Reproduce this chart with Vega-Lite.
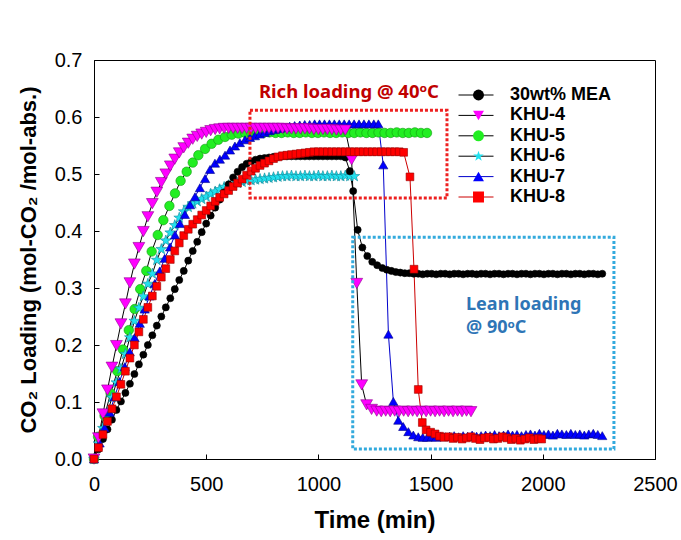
{
"$schema": "https://vega.github.io/schema/vega-lite/v6.json",
"width": 561, "height": 399,
"autosize": {"type": "none"},
"padding": {"left": 94, "top": 60, "right": 26, "bottom": 81},
"background": "white",
"config": {
 "view": {"stroke": "black", "strokeWidth": 1},
 "axis": {"grid": false, "domainColor": "black", "tickColor": "black", "tickSize": -5, "labelFont": "Liberation Sans", "labelFontSize": 20, "labelColor": "black", "titleFont": "Liberation Sans", "titleFontWeight": "bold", "titleColor": "black", "labelFlush": false, "labelOverlap": false, "labelBound": false},
 "axisX": {"labelPadding": 20, "titlePadding": 14, "titleFontSize": 24},
 "axisY": {"labelPadding": 17, "titlePadding": 14, "titleFontSize": 22}
},
"data": {"values": [
{"s":"KHU-5","t":0,"v":0},{"s":"KHU-5","t":18,"v":0.039},{"s":"KHU-5","t":47,"v":0.076},{"s":"KHU-5","t":74,"v":0.115},{"s":"KHU-5","t":104,"v":0.154},{"s":"KHU-5","t":129,"v":0.192},{"s":"KHU-5","t":155,"v":0.226},{"s":"KHU-5","t":181,"v":0.263},{"s":"KHU-5","t":206,"v":0.298},{"s":"KHU-5","t":233,"v":0.33},{"s":"KHU-5","t":257,"v":0.364},{"s":"KHU-5","t":284,"v":0.393},{"s":"KHU-5","t":309,"v":0.419},{"s":"KHU-5","t":336,"v":0.444},{"s":"KHU-5","t":361,"v":0.466},{"s":"KHU-5","t":386,"v":0.488},{"s":"KHU-5","t":413,"v":0.504},{"s":"KHU-5","t":440,"v":0.52},{"s":"KHU-5","t":465,"v":0.533},{"s":"KHU-5","t":495,"v":0.544},{"s":"KHU-5","t":524,"v":0.553},{"s":"KHU-5","t":554,"v":0.56},{"s":"KHU-5","t":584,"v":0.565},{"s":"KHU-5","t":614,"v":0.569},{"s":"KHU-5","t":644,"v":0.571},{"s":"KHU-5","t":674,"v":0.572},{"s":"KHU-5","t":701,"v":0.572},{"s":"KHU-5","t":728,"v":0.573},{"s":"KHU-5","t":755,"v":0.572},{"s":"KHU-5","t":782,"v":0.573},{"s":"KHU-5","t":809,"v":0.572},{"s":"KHU-5","t":836,"v":0.572},{"s":"KHU-5","t":863,"v":0.573},{"s":"KHU-5","t":890,"v":0.572},{"s":"KHU-5","t":917,"v":0.572},{"s":"KHU-5","t":944,"v":0.573},{"s":"KHU-5","t":971,"v":0.572},{"s":"KHU-5","t":998,"v":0.572},{"s":"KHU-5","t":1025,"v":0.573},{"s":"KHU-5","t":1052,"v":0.572},{"s":"KHU-5","t":1079,"v":0.572},{"s":"KHU-5","t":1106,"v":0.573},{"s":"KHU-5","t":1133,"v":0.572},{"s":"KHU-5","t":1160,"v":0.572},{"s":"KHU-5","t":1187,"v":0.573},{"s":"KHU-5","t":1214,"v":0.572},{"s":"KHU-5","t":1241,"v":0.572},{"s":"KHU-5","t":1268,"v":0.573},{"s":"KHU-5","t":1295,"v":0.572},{"s":"KHU-5","t":1322,"v":0.572},{"s":"KHU-5","t":1349,"v":0.573},{"s":"KHU-5","t":1376,"v":0.572},{"s":"KHU-5","t":1403,"v":0.572},{"s":"KHU-5","t":1430,"v":0.573},{"s":"KHU-5","t":1457,"v":0.572},{"s":"KHU-5","t":1484,"v":0.572},
{"s":"KHU-6","t":0,"v":0},{"s":"KHU-6","t":20,"v":0.027},{"s":"KHU-6","t":40,"v":0.054},{"s":"KHU-6","t":60,"v":0.081},{"s":"KHU-6","t":80,"v":0.108},{"s":"KHU-6","t":100,"v":0.134},{"s":"KHU-6","t":120,"v":0.158},{"s":"KHU-6","t":140,"v":0.184},{"s":"KHU-6","t":160,"v":0.213},{"s":"KHU-6","t":180,"v":0.242},{"s":"KHU-6","t":200,"v":0.265},{"s":"KHU-6","t":220,"v":0.285},{"s":"KHU-6","t":240,"v":0.307},{"s":"KHU-6","t":260,"v":0.325},{"s":"KHU-6","t":280,"v":0.349},{"s":"KHU-6","t":300,"v":0.368},{"s":"KHU-6","t":320,"v":0.383},{"s":"KHU-6","t":340,"v":0.397},{"s":"KHU-6","t":360,"v":0.41},{"s":"KHU-6","t":380,"v":0.423},{"s":"KHU-6","t":400,"v":0.434},{"s":"KHU-6","t":420,"v":0.442},{"s":"KHU-6","t":440,"v":0.448},{"s":"KHU-6","t":460,"v":0.452},{"s":"KHU-6","t":480,"v":0.456},{"s":"KHU-6","t":500,"v":0.46},{"s":"KHU-6","t":520,"v":0.465},{"s":"KHU-6","t":540,"v":0.469},{"s":"KHU-6","t":560,"v":0.473},{"s":"KHU-6","t":580,"v":0.477},{"s":"KHU-6","t":600,"v":0.48},{"s":"KHU-6","t":620,"v":0.482},{"s":"KHU-6","t":640,"v":0.484},{"s":"KHU-6","t":660,"v":0.486},{"s":"KHU-6","t":680,"v":0.488},{"s":"KHU-6","t":700,"v":0.489},{"s":"KHU-6","t":720,"v":0.49},{"s":"KHU-6","t":740,"v":0.491},{"s":"KHU-6","t":760,"v":0.492},{"s":"KHU-6","t":780,"v":0.493},{"s":"KHU-6","t":800,"v":0.494},{"s":"KHU-6","t":820,"v":0.495},{"s":"KHU-6","t":840,"v":0.496},{"s":"KHU-6","t":860,"v":0.496},{"s":"KHU-6","t":880,"v":0.497},{"s":"KHU-6","t":900,"v":0.496},{"s":"KHU-6","t":920,"v":0.496},{"s":"KHU-6","t":940,"v":0.497},{"s":"KHU-6","t":960,"v":0.496},{"s":"KHU-6","t":980,"v":0.496},{"s":"KHU-6","t":1000,"v":0.497},{"s":"KHU-6","t":1020,"v":0.496},{"s":"KHU-6","t":1040,"v":0.496},{"s":"KHU-6","t":1060,"v":0.497},{"s":"KHU-6","t":1080,"v":0.496},{"s":"KHU-6","t":1100,"v":0.496},{"s":"KHU-6","t":1120,"v":0.497},{"s":"KHU-6","t":1140,"v":0.496},{"s":"KHU-6","t":1160,"v":0.496},
{"s":"30wt% MEA","t":0,"v":0},{"s":"30wt% MEA","t":20,"v":0.017},{"s":"30wt% MEA","t":40,"v":0.035},{"s":"30wt% MEA","t":60,"v":0.052},{"s":"30wt% MEA","t":80,"v":0.069},{"s":"30wt% MEA","t":100,"v":0.086},{"s":"30wt% MEA","t":120,"v":0.101},{"s":"30wt% MEA","t":140,"v":0.116},{"s":"30wt% MEA","t":160,"v":0.132},{"s":"30wt% MEA","t":180,"v":0.149},{"s":"30wt% MEA","t":200,"v":0.166},{"s":"30wt% MEA","t":220,"v":0.183},{"s":"30wt% MEA","t":240,"v":0.2},{"s":"30wt% MEA","t":260,"v":0.217},{"s":"30wt% MEA","t":280,"v":0.234},{"s":"30wt% MEA","t":300,"v":0.25},{"s":"30wt% MEA","t":320,"v":0.266},{"s":"30wt% MEA","t":340,"v":0.282},{"s":"30wt% MEA","t":360,"v":0.298},{"s":"30wt% MEA","t":380,"v":0.314},{"s":"30wt% MEA","t":400,"v":0.33},{"s":"30wt% MEA","t":420,"v":0.348},{"s":"30wt% MEA","t":440,"v":0.365},{"s":"30wt% MEA","t":460,"v":0.381},{"s":"30wt% MEA","t":480,"v":0.398},{"s":"30wt% MEA","t":500,"v":0.413},{"s":"30wt% MEA","t":520,"v":0.427},{"s":"30wt% MEA","t":540,"v":0.441},{"s":"30wt% MEA","t":560,"v":0.455},{"s":"30wt% MEA","t":580,"v":0.468},{"s":"30wt% MEA","t":600,"v":0.482},{"s":"30wt% MEA","t":620,"v":0.494},{"s":"30wt% MEA","t":640,"v":0.504},{"s":"30wt% MEA","t":660,"v":0.512},{"s":"30wt% MEA","t":680,"v":0.518},{"s":"30wt% MEA","t":700,"v":0.522},{"s":"30wt% MEA","t":720,"v":0.525},{"s":"30wt% MEA","t":740,"v":0.527},{"s":"30wt% MEA","t":760,"v":0.528},{"s":"30wt% MEA","t":780,"v":0.529},{"s":"30wt% MEA","t":800,"v":0.53},{"s":"30wt% MEA","t":820,"v":0.53},{"s":"30wt% MEA","t":840,"v":0.531},{"s":"30wt% MEA","t":860,"v":0.531},{"s":"30wt% MEA","t":880,"v":0.531},{"s":"30wt% MEA","t":900,"v":0.531},{"s":"30wt% MEA","t":920,"v":0.531},{"s":"30wt% MEA","t":940,"v":0.531},{"s":"30wt% MEA","t":960,"v":0.531},{"s":"30wt% MEA","t":980,"v":0.531},{"s":"30wt% MEA","t":1000,"v":0.531},{"s":"30wt% MEA","t":1020,"v":0.531},{"s":"30wt% MEA","t":1040,"v":0.531},{"s":"30wt% MEA","t":1060,"v":0.531},{"s":"30wt% MEA","t":1080,"v":0.531},{"s":"30wt% MEA","t":1100,"v":0.531},{"s":"30wt% MEA","t":1120,"v":0.529},{"s":"30wt% MEA","t":1140,"v":0.505},{"s":"30wt% MEA","t":1155,"v":0.47},{"s":"30wt% MEA","t":1175,"v":0.402},{"s":"30wt% MEA","t":1196,"v":0.371},{"s":"30wt% MEA","t":1218,"v":0.356},{"s":"30wt% MEA","t":1240,"v":0.346},{"s":"30wt% MEA","t":1262,"v":0.34},{"s":"30wt% MEA","t":1285,"v":0.335},{"s":"30wt% MEA","t":1305,"v":0.332},{"s":"30wt% MEA","t":1325,"v":0.33},{"s":"30wt% MEA","t":1345,"v":0.328},{"s":"30wt% MEA","t":1365,"v":0.327},{"s":"30wt% MEA","t":1385,"v":0.326},{"s":"30wt% MEA","t":1405,"v":0.326},{"s":"30wt% MEA","t":1425,"v":0.325},{"s":"30wt% MEA","t":1445,"v":0.325},{"s":"30wt% MEA","t":1465,"v":0.324},{"s":"30wt% MEA","t":1485,"v":0.325},{"s":"30wt% MEA","t":1505,"v":0.325},{"s":"30wt% MEA","t":1525,"v":0.324},{"s":"30wt% MEA","t":1545,"v":0.325},{"s":"30wt% MEA","t":1565,"v":0.325},{"s":"30wt% MEA","t":1585,"v":0.324},{"s":"30wt% MEA","t":1605,"v":0.325},{"s":"30wt% MEA","t":1625,"v":0.325},{"s":"30wt% MEA","t":1645,"v":0.324},{"s":"30wt% MEA","t":1665,"v":0.325},{"s":"30wt% MEA","t":1685,"v":0.325},{"s":"30wt% MEA","t":1705,"v":0.324},{"s":"30wt% MEA","t":1725,"v":0.325},{"s":"30wt% MEA","t":1745,"v":0.325},{"s":"30wt% MEA","t":1765,"v":0.324},{"s":"30wt% MEA","t":1785,"v":0.325},{"s":"30wt% MEA","t":1805,"v":0.325},{"s":"30wt% MEA","t":1825,"v":0.324},{"s":"30wt% MEA","t":1845,"v":0.325},{"s":"30wt% MEA","t":1865,"v":0.325},{"s":"30wt% MEA","t":1885,"v":0.324},{"s":"30wt% MEA","t":1905,"v":0.325},{"s":"30wt% MEA","t":1925,"v":0.325},{"s":"30wt% MEA","t":1945,"v":0.324},{"s":"30wt% MEA","t":1965,"v":0.325},{"s":"30wt% MEA","t":1985,"v":0.325},{"s":"30wt% MEA","t":2005,"v":0.324},{"s":"30wt% MEA","t":2025,"v":0.325},{"s":"30wt% MEA","t":2045,"v":0.325},{"s":"30wt% MEA","t":2065,"v":0.324},{"s":"30wt% MEA","t":2085,"v":0.325},{"s":"30wt% MEA","t":2105,"v":0.325},{"s":"30wt% MEA","t":2125,"v":0.324},{"s":"30wt% MEA","t":2145,"v":0.325},{"s":"30wt% MEA","t":2165,"v":0.325},{"s":"30wt% MEA","t":2185,"v":0.324},{"s":"30wt% MEA","t":2205,"v":0.325},{"s":"30wt% MEA","t":2225,"v":0.325},{"s":"30wt% MEA","t":2245,"v":0.324},{"s":"30wt% MEA","t":2265,"v":0.325},
{"s":"KHU-7","t":0,"v":0},{"s":"KHU-7","t":25,"v":0.028},{"s":"KHU-7","t":47,"v":0.055},{"s":"KHU-7","t":70,"v":0.082},{"s":"KHU-7","t":92,"v":0.109},{"s":"KHU-7","t":114,"v":0.136},{"s":"KHU-7","t":137,"v":0.162},{"s":"KHU-7","t":159,"v":0.188},{"s":"KHU-7","t":181,"v":0.213},{"s":"KHU-7","t":204,"v":0.238},{"s":"KHU-7","t":226,"v":0.263},{"s":"KHU-7","t":248,"v":0.286},{"s":"KHU-7","t":271,"v":0.308},{"s":"KHU-7","t":293,"v":0.33},{"s":"KHU-7","t":315,"v":0.352},{"s":"KHU-7","t":339,"v":0.372},{"s":"KHU-7","t":361,"v":0.393},{"s":"KHU-7","t":383,"v":0.413},{"s":"KHU-7","t":405,"v":0.429},{"s":"KHU-7","t":428,"v":0.446},{"s":"KHU-7","t":450,"v":0.46},{"s":"KHU-7","t":472,"v":0.476},{"s":"KHU-7","t":495,"v":0.492},{"s":"KHU-7","t":517,"v":0.508},{"s":"KHU-7","t":539,"v":0.519},{"s":"KHU-7","t":561,"v":0.526},{"s":"KHU-7","t":584,"v":0.533},{"s":"KHU-7","t":606,"v":0.542},{"s":"KHU-7","t":628,"v":0.549},{"s":"KHU-7","t":650,"v":0.555},{"s":"KHU-7","t":673,"v":0.56},{"s":"KHU-7","t":695,"v":0.564},{"s":"KHU-7","t":717,"v":0.567},{"s":"KHU-7","t":739,"v":0.57},{"s":"KHU-7","t":761,"v":0.573},{"s":"KHU-7","t":783,"v":0.576},{"s":"KHU-7","t":806,"v":0.578},{"s":"KHU-7","t":828,"v":0.58},{"s":"KHU-7","t":850,"v":0.582},{"s":"KHU-7","t":872,"v":0.584},{"s":"KHU-7","t":894,"v":0.585},{"s":"KHU-7","t":917,"v":0.586},{"s":"KHU-7","t":939,"v":0.587},{"s":"KHU-7","t":961,"v":0.587},{"s":"KHU-7","t":983,"v":0.588},{"s":"KHU-7","t":1005,"v":0.588},{"s":"KHU-7","t":1027,"v":0.588},{"s":"KHU-7","t":1049,"v":0.588},{"s":"KHU-7","t":1071,"v":0.588},{"s":"KHU-7","t":1093,"v":0.588},{"s":"KHU-7","t":1115,"v":0.588},{"s":"KHU-7","t":1137,"v":0.588},{"s":"KHU-7","t":1159,"v":0.588},{"s":"KHU-7","t":1181,"v":0.588},{"s":"KHU-7","t":1203,"v":0.588},{"s":"KHU-7","t":1225,"v":0.588},{"s":"KHU-7","t":1247,"v":0.588},{"s":"KHU-7","t":1267,"v":0.588},{"s":"KHU-7","t":1289,"v":0.516},{"s":"KHU-7","t":1312,"v":0.219},{"s":"KHU-7","t":1334,"v":0.101},{"s":"KHU-7","t":1356,"v":0.068},{"s":"KHU-7","t":1378,"v":0.057},{"s":"KHU-7","t":1401,"v":0.048},{"s":"KHU-7","t":1423,"v":0.042},{"s":"KHU-7","t":1445,"v":0.039},{"s":"KHU-7","t":1465,"v":0.038},{"s":"KHU-7","t":1485,"v":0.038},{"s":"KHU-7","t":1505,"v":0.039},{"s":"KHU-7","t":1525,"v":0.038},{"s":"KHU-7","t":1545,"v":0.04},{"s":"KHU-7","t":1565,"v":0.039},{"s":"KHU-7","t":1585,"v":0.04},{"s":"KHU-7","t":1605,"v":0.041},{"s":"KHU-7","t":1625,"v":0.039},{"s":"KHU-7","t":1645,"v":0.041},{"s":"KHU-7","t":1665,"v":0.04},{"s":"KHU-7","t":1685,"v":0.042},{"s":"KHU-7","t":1705,"v":0.04},{"s":"KHU-7","t":1725,"v":0.041},{"s":"KHU-7","t":1745,"v":0.042},{"s":"KHU-7","t":1765,"v":0.041},{"s":"KHU-7","t":1785,"v":0.043},{"s":"KHU-7","t":1805,"v":0.041},{"s":"KHU-7","t":1825,"v":0.042},{"s":"KHU-7","t":1845,"v":0.044},{"s":"KHU-7","t":1865,"v":0.042},{"s":"KHU-7","t":1885,"v":0.043},{"s":"KHU-7","t":1905,"v":0.041},{"s":"KHU-7","t":1925,"v":0.043},{"s":"KHU-7","t":1945,"v":0.044},{"s":"KHU-7","t":1965,"v":0.042},{"s":"KHU-7","t":1985,"v":0.045},{"s":"KHU-7","t":2005,"v":0.043},{"s":"KHU-7","t":2025,"v":0.044},{"s":"KHU-7","t":2045,"v":0.042},{"s":"KHU-7","t":2065,"v":0.045},{"s":"KHU-7","t":2085,"v":0.044},{"s":"KHU-7","t":2105,"v":0.043},{"s":"KHU-7","t":2125,"v":0.045},{"s":"KHU-7","t":2145,"v":0.043},{"s":"KHU-7","t":2165,"v":0.044},{"s":"KHU-7","t":2185,"v":0.042},{"s":"KHU-7","t":2205,"v":0.044},{"s":"KHU-7","t":2225,"v":0.045},{"s":"KHU-7","t":2245,"v":0.043},{"s":"KHU-7","t":2265,"v":0.041},
{"s":"KHU-4","t":0,"v":0},{"s":"KHU-4","t":20,"v":0.037},{"s":"KHU-4","t":40,"v":0.079},{"s":"KHU-4","t":60,"v":0.121},{"s":"KHU-4","t":80,"v":0.161},{"s":"KHU-4","t":100,"v":0.199},{"s":"KHU-4","t":120,"v":0.237},{"s":"KHU-4","t":140,"v":0.272},{"s":"KHU-4","t":160,"v":0.309},{"s":"KHU-4","t":180,"v":0.342},{"s":"KHU-4","t":200,"v":0.371},{"s":"KHU-4","t":220,"v":0.399},{"s":"KHU-4","t":240,"v":0.425},{"s":"KHU-4","t":260,"v":0.448},{"s":"KHU-4","t":280,"v":0.468},{"s":"KHU-4","t":300,"v":0.485},{"s":"KHU-4","t":320,"v":0.5},{"s":"KHU-4","t":340,"v":0.514},{"s":"KHU-4","t":360,"v":0.526},{"s":"KHU-4","t":380,"v":0.537},{"s":"KHU-4","t":400,"v":0.546},{"s":"KHU-4","t":420,"v":0.554},{"s":"KHU-4","t":440,"v":0.561},{"s":"KHU-4","t":460,"v":0.566},{"s":"KHU-4","t":480,"v":0.57},{"s":"KHU-4","t":500,"v":0.573},{"s":"KHU-4","t":520,"v":0.576},{"s":"KHU-4","t":540,"v":0.578},{"s":"KHU-4","t":560,"v":0.579},{"s":"KHU-4","t":580,"v":0.58},{"s":"KHU-4","t":600,"v":0.58},{"s":"KHU-4","t":620,"v":0.58},{"s":"KHU-4","t":640,"v":0.58},{"s":"KHU-4","t":660,"v":0.58},{"s":"KHU-4","t":680,"v":0.58},{"s":"KHU-4","t":700,"v":0.58},{"s":"KHU-4","t":720,"v":0.58},{"s":"KHU-4","t":740,"v":0.58},{"s":"KHU-4","t":760,"v":0.58},{"s":"KHU-4","t":780,"v":0.58},{"s":"KHU-4","t":800,"v":0.58},{"s":"KHU-4","t":820,"v":0.58},{"s":"KHU-4","t":840,"v":0.58},{"s":"KHU-4","t":860,"v":0.579},{"s":"KHU-4","t":880,"v":0.579},{"s":"KHU-4","t":900,"v":0.579},{"s":"KHU-4","t":920,"v":0.579},{"s":"KHU-4","t":940,"v":0.579},{"s":"KHU-4","t":960,"v":0.579},{"s":"KHU-4","t":980,"v":0.578},{"s":"KHU-4","t":1000,"v":0.578},{"s":"KHU-4","t":1020,"v":0.578},{"s":"KHU-4","t":1040,"v":0.578},{"s":"KHU-4","t":1060,"v":0.578},{"s":"KHU-4","t":1080,"v":0.577},{"s":"KHU-4","t":1100,"v":0.577},{"s":"KHU-4","t":1120,"v":0.577},{"s":"KHU-4","t":1148,"v":0.525},{"s":"KHU-4","t":1171,"v":0.308},{"s":"KHU-4","t":1193,"v":0.13},{"s":"KHU-4","t":1215,"v":0.095},{"s":"KHU-4","t":1237,"v":0.087},{"s":"KHU-4","t":1260,"v":0.084},{"s":"KHU-4","t":1280,"v":0.083},{"s":"KHU-4","t":1300,"v":0.084},{"s":"KHU-4","t":1320,"v":0.083},{"s":"KHU-4","t":1340,"v":0.084},{"s":"KHU-4","t":1360,"v":0.083},{"s":"KHU-4","t":1380,"v":0.084},{"s":"KHU-4","t":1400,"v":0.083},{"s":"KHU-4","t":1420,"v":0.084},{"s":"KHU-4","t":1440,"v":0.083},{"s":"KHU-4","t":1460,"v":0.084},{"s":"KHU-4","t":1480,"v":0.083},{"s":"KHU-4","t":1500,"v":0.084},{"s":"KHU-4","t":1520,"v":0.083},{"s":"KHU-4","t":1540,"v":0.084},{"s":"KHU-4","t":1560,"v":0.083},{"s":"KHU-4","t":1580,"v":0.084},{"s":"KHU-4","t":1600,"v":0.083},{"s":"KHU-4","t":1620,"v":0.084},{"s":"KHU-4","t":1640,"v":0.083},{"s":"KHU-4","t":1660,"v":0.084},{"s":"KHU-4","t":1680,"v":0.083},
{"s":"KHU-8","t":0,"v":0},{"s":"KHU-8","t":20,"v":0.02},{"s":"KHU-8","t":40,"v":0.043},{"s":"KHU-8","t":60,"v":0.066},{"s":"KHU-8","t":80,"v":0.088},{"s":"KHU-8","t":100,"v":0.109},{"s":"KHU-8","t":120,"v":0.131},{"s":"KHU-8","t":140,"v":0.154},{"s":"KHU-8","t":160,"v":0.177},{"s":"KHU-8","t":180,"v":0.2},{"s":"KHU-8","t":200,"v":0.223},{"s":"KHU-8","t":220,"v":0.245},{"s":"KHU-8","t":240,"v":0.266},{"s":"KHU-8","t":260,"v":0.286},{"s":"KHU-8","t":280,"v":0.303},{"s":"KHU-8","t":300,"v":0.319},{"s":"KHU-8","t":320,"v":0.334},{"s":"KHU-8","t":340,"v":0.35},{"s":"KHU-8","t":360,"v":0.365},{"s":"KHU-8","t":380,"v":0.379},{"s":"KHU-8","t":400,"v":0.392},{"s":"KHU-8","t":420,"v":0.403},{"s":"KHU-8","t":440,"v":0.412},{"s":"KHU-8","t":460,"v":0.42},{"s":"KHU-8","t":480,"v":0.428},{"s":"KHU-8","t":500,"v":0.436},{"s":"KHU-8","t":520,"v":0.444},{"s":"KHU-8","t":540,"v":0.452},{"s":"KHU-8","t":560,"v":0.459},{"s":"KHU-8","t":580,"v":0.465},{"s":"KHU-8","t":600,"v":0.471},{"s":"KHU-8","t":620,"v":0.478},{"s":"KHU-8","t":640,"v":0.484},{"s":"KHU-8","t":660,"v":0.491},{"s":"KHU-8","t":680,"v":0.498},{"s":"KHU-8","t":700,"v":0.505},{"s":"KHU-8","t":720,"v":0.51},{"s":"KHU-8","t":740,"v":0.515},{"s":"KHU-8","t":760,"v":0.519},{"s":"KHU-8","t":780,"v":0.523},{"s":"KHU-8","t":800,"v":0.527},{"s":"KHU-8","t":820,"v":0.53},{"s":"KHU-8","t":840,"v":0.532},{"s":"KHU-8","t":860,"v":0.533},{"s":"KHU-8","t":880,"v":0.534},{"s":"KHU-8","t":900,"v":0.535},{"s":"KHU-8","t":920,"v":0.536},{"s":"KHU-8","t":940,"v":0.537},{"s":"KHU-8","t":960,"v":0.538},{"s":"KHU-8","t":980,"v":0.539},{"s":"KHU-8","t":1000,"v":0.539},{"s":"KHU-8","t":1020,"v":0.539},{"s":"KHU-8","t":1040,"v":0.539},{"s":"KHU-8","t":1060,"v":0.539},{"s":"KHU-8","t":1080,"v":0.539},{"s":"KHU-8","t":1100,"v":0.539},{"s":"KHU-8","t":1120,"v":0.539},{"s":"KHU-8","t":1140,"v":0.539},{"s":"KHU-8","t":1160,"v":0.539},{"s":"KHU-8","t":1180,"v":0.539},{"s":"KHU-8","t":1200,"v":0.539},{"s":"KHU-8","t":1220,"v":0.539},{"s":"KHU-8","t":1240,"v":0.539},{"s":"KHU-8","t":1260,"v":0.539},{"s":"KHU-8","t":1280,"v":0.539},{"s":"KHU-8","t":1300,"v":0.539},{"s":"KHU-8","t":1320,"v":0.539},{"s":"KHU-8","t":1340,"v":0.539},{"s":"KHU-8","t":1360,"v":0.539},{"s":"KHU-8","t":1380,"v":0.538},{"s":"KHU-8","t":1408,"v":0.495},{"s":"KHU-8","t":1426,"v":0.333},{"s":"KHU-8","t":1445,"v":0.122},{"s":"KHU-8","t":1463,"v":0.064},{"s":"KHU-8","t":1480,"v":0.051},{"s":"KHU-8","t":1500,"v":0.047},{"s":"KHU-8","t":1520,"v":0.044},{"s":"KHU-8","t":1540,"v":0.04},{"s":"KHU-8","t":1560,"v":0.038},{"s":"KHU-8","t":1580,"v":0.039},{"s":"KHU-8","t":1600,"v":0.036},{"s":"KHU-8","t":1620,"v":0.038},{"s":"KHU-8","t":1640,"v":0.035},{"s":"KHU-8","t":1660,"v":0.037},{"s":"KHU-8","t":1680,"v":0.039},{"s":"KHU-8","t":1700,"v":0.036},{"s":"KHU-8","t":1720,"v":0.034},{"s":"KHU-8","t":1740,"v":0.037},{"s":"KHU-8","t":1760,"v":0.038},{"s":"KHU-8","t":1780,"v":0.035},{"s":"KHU-8","t":1800,"v":0.036},{"s":"KHU-8","t":1820,"v":0.039},{"s":"KHU-8","t":1840,"v":0.037},{"s":"KHU-8","t":1860,"v":0.034},{"s":"KHU-8","t":1880,"v":0.036},{"s":"KHU-8","t":1900,"v":0.033},{"s":"KHU-8","t":1920,"v":0.035},{"s":"KHU-8","t":1940,"v":0.037},{"s":"KHU-8","t":1960,"v":0.034},{"s":"KHU-8","t":1980,"v":0.036},{"s":"KHU-8","t":1995,"v":0.035}
]},
"encoding": {
 "x": {"field": "t", "type": "quantitative", "title": "Time (min)", "scale": {"domain": [0, 2500], "nice": false}, "axis": {"values": [0, 500, 1000, 1500, 2000, 2500], "format": "d"}},
 "y": {"field": "v", "type": "quantitative", "title": "CO₂ Loading (mol-CO₂ /mol-abs.)", "scale": {"domain": [0, 0.7], "nice": false}, "axis": {"values": [0, 0.1, 0.2, 0.3, 0.4, 0.5, 0.6, 0.7], "format": ".1f"}}
},
"layer": [
 {"mark": {"type": "line", "strokeWidth": 1},
  "encoding": {"stroke": {"field": "s", "type": "nominal", "scale": {"range": ["#000000", "#000000", "#000000", "#000000", "#0000CC", "#CC0000"]},
   "legend": {"title": null, "orient": "none", "legendX": 364, "legendY": 26, "padding": 0, "symbolType": "stroke", "symbolSize": 1225, "symbolStrokeWidth": 1, "clipHeight": 18, "rowPadding": 2.4, "labelOffset": 16, "labelFont": "Liberation Sans", "labelFontSize": 18, "labelFontWeight": "bold", "labelColor": "black", "zindex": 0}}}},
 {"mark": {"type": "point", "filled": true, "opacity": 1, "strokeWidth": 0.6},
  "encoding": {
   "fill": {"field": "s", "type": "nominal", "scale": {"domain": ["30wt% MEA", "KHU-4", "KHU-5", "KHU-6", "KHU-7", "KHU-8"], "range": ["#000000", "#FF00FF", "#22EE22", "#22E0EE", "#0000FF", "#FF0000"]},
    "legend": {"title": null, "orient": "none", "legendX": 375.5, "legendY": 26, "padding": 0, "symbolSize": 120, "symbolOpacity": 1, "symbolStrokeColor": "#222222", "symbolStrokeWidth": 0.6, "clipHeight": 18, "rowPadding": 2.4, "labelOffset": 16, "labelFont": "Liberation Sans", "labelFontSize": 18, "labelFontWeight": "bold", "labelColor": "black", "labelOpacity": 0, "zindex": 1}},
   "shape": {"field": "s", "type": "nominal", "scale": {"domain": ["30wt% MEA", "KHU-4", "KHU-5", "KHU-6", "KHU-7", "KHU-8"], "range": ["circle", "triangle-down", "circle", "M0,-1L0.235,-0.324L0.951,-0.309L0.38,0.124L0.588,0.809L0,0.4L-0.588,0.809L-0.38,0.124L-0.951,-0.309L-0.235,-0.324Z", "triangle-up", "square"]}},
   "size": {"field": "s", "type": "nominal", "scale": {"type": "ordinal", "range": [50, 140, 90, 130, 85, 60]}, "legend": null},
   "stroke": {"field": "s", "type": "nominal", "scale": {"range": ["#000000", "#8B008B", "#119911", "#118899", "#000088", "#990000"]}, "legend": null}
  }},
 {"data": {"values": [{"t": 695, "t2": 1573, "v": 0.612, "v2": 0.458}]},
  "mark": {"type": "rect", "fill": "white", "fillOpacity": 0, "stroke": "#EE2020", "strokeWidth": 3, "strokeDash": [3, 2]},
  "encoding": {"x2": {"field": "t2"}, "y2": {"field": "v2"}}},
 {"data": {"values": [{"t": 1153, "t2": 2317, "v": 0.389, "v2": 0.0175}]},
  "mark": {"type": "rect", "fill": "white", "fillOpacity": 0, "stroke": "#33AADD", "strokeWidth": 3, "strokeDash": [3, 2]},
  "encoding": {"x2": {"field": "t2"}, "y2": {"field": "v2"}}},
 {"data": {"values": [{"t": 1136, "v": 0.644, "txt": "Rich loading @ 40ᵒC"}]},
  "mark": {"type": "text", "font": "Noto Sans", "fontWeight": "bold", "fontSize": 18.5, "color": "#C00000", "align": "center", "baseline": "middle"},
  "encoding": {"text": {"field": "txt"}}},
 {"data": {"values": [{"t": 1658, "v": 0.27, "txt": "Lean loading"}, {"t": 1658, "v": 0.23, "txt": "@ 90ᵒC"}]},
  "mark": {"type": "text", "font": "Noto Sans", "fontWeight": "bold", "fontSize": 18, "color": "#2E75B6", "align": "left", "baseline": "middle"},
  "encoding": {"text": {"field": "txt"}}}
],
"resolve": {"scale": {"stroke": "independent"}}
}
